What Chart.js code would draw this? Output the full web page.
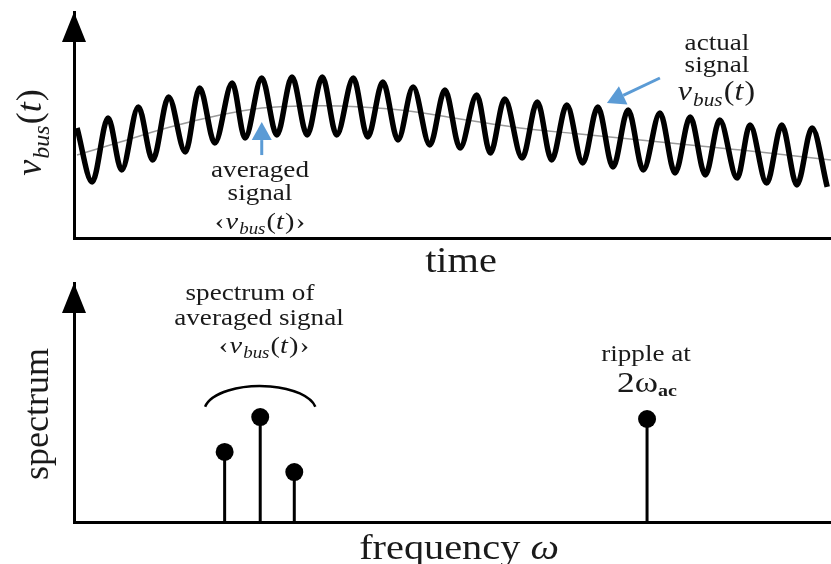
<!DOCTYPE html>
<html><head><meta charset="utf-8">
<script src="https://cdn.jsdelivr.net/npm/chart.js@4/dist/chart.umd.min.js"></script>
<style>
html,body{margin:0;padding:0;background:#fff;}
#wrap{position:relative;width:831px;height:564px;overflow:hidden;background:#fff;}
.pane{position:absolute;left:0;width:831px;height:282px;}
#probe{position:absolute;left:-9999px;top:0;font-family:"Liberation Serif";}
</style></head><body>
<div id="wrap">
  <div class="pane" style="top:0"><canvas id="timeChart" width="831" height="282"></canvas></div>
  <div class="pane" style="top:282px"><canvas id="specChart" width="831" height="282"></canvas></div>
</div>
<div id="probe">time <i>v ω</i> <b>ac</b></div>
<script>
// ---------- data (arbitrary units 0..100) ----------
const timeActual = [0.4, 2.4, 4.5, 6.3, 8.5, 10.4, 12.5, 14.7, 16.6, 18.6, 20.9, 22.6, 24.8, 26.8, 28.8, 30.8, 32.8, 34.7, 36.9, 38.8, 40.8, 42.8, 44.8, 47.0, 49.0, 51.0, 53.2, 55.0, 56.9, 59.2, 61.2, 63.1, 65.1, 67.2, 69.2, 71.2, 73.2, 75.2, 77.4, 79.4, 81.4, 83.4, 85.3, 87.6, 89.3, 91.5, 93.5, 95.5, 97.5, 99.5];
const vbusActual = [48.7, 24.8, 53.1, 30.1, 58.0, 34.5, 62.4, 38.1, 66.4, 42.0, 68.6, 44.2, 70.8, 45.6, 71.2, 45.6, 71.2, 45.6, 70.8, 44.7, 69.0, 43.4, 66.8, 41.2, 65.5, 39.8, 63.3, 37.6, 61.5, 35.4, 60.2, 34.5, 58.8, 33.2, 58.0, 31.4, 56.6, 30.1, 55.3, 28.8, 53.5, 27.9, 52.2, 26.5, 50.0, 24.3, 50.0, 23.5, 48.7, 22.6];
const timeAveraged = [0.4, 6.1, 12.7, 19.3, 24.8, 29.9, 35.1, 43.1, 51.0, 58.9, 66.8, 74.8, 82.7, 90.6, 100];
const vbusAveraged = [36.7, 42.5, 49.1, 54.4, 57.5, 58.4, 58.4, 56.6, 52.7, 48.7, 46.0, 43.4, 40.7, 38.1, 34.5];
const freqComponents = [19.9, 24.6, 29.1, 75.7];
const spectrumAmplitude = [29.3, 43.9, 20.9, 43.1];

// ---------- styling / annotation constants ----------
const SERIF = '"Liberation Serif", "Times New Roman", Tinos, serif';
const INK = '#1a1a1a';
const BLUE = '#5b9bd5';
const SX = 1.18; // horizontal stretch of the original artwork text

function fontOf(p){ return (p.italic ? 'italic ' : '') + (p.bold ? 'bold ' : '') + p.size + 'px ' + SERIF; }
function rich(ctx, parts, x, y, o){
  o = o || {};
  ctx.save();
  ctx.translate(x, y);
  if (o.rotate) ctx.rotate(o.rotate);
  ctx.scale(o.sx || 1, 1);
  ctx.textAlign = 'left'; ctx.textBaseline = 'alphabetic';
  const w = parts.map(p => { ctx.font = fontOf(p); return ctx.measureText(p.t).width + (p.kern || 0); });
  let cx = -w.reduce((a,b)=>a+b,0)/2;
  parts.forEach((p,i) => { ctx.font = fontOf(p); ctx.fillStyle = p.color || INK; ctx.fillText(p.t, cx, p.dy || 0); cx += w[i]; });
  ctx.restore();
}
function vbusParts(s, bracket){
  const sub = Math.round(s*0.68);
  const parts = [];
  if (bracket) parts.push({t:'‹', size:s, kern:1});
  parts.push({t:'v', size:s, italic:true, kern:1});
  parts.push({t:'bus', size:sub, italic:true, dy:Math.round(s*0.22), kern:1});
  parts.push({t:'(', size:s}); parts.push({t:'t', size:s, italic:true, kern:1}); parts.push({t:')', size:s, kern:1});
  if (bracket) parts.push({t:'›', size:s});
  return parts;
}
function yArrowHead(ctx, area){
  ctx.save(); ctx.fillStyle = '#000';
  ctx.beginPath();
  ctx.moveTo(area.left, area.top);
  ctx.lineTo(area.left - 12, area.top + 30);
  ctx.lineTo(area.left + 12, area.top + 30);
  ctx.closePath(); ctx.fill(); ctx.restore();
}
function blueArrow(ctx, x0, y0, x1, y1){
  const ang = Math.atan2(y1 - y0, x1 - x0), L = 18, W = 10;
  const bx = x1 - L*Math.cos(ang), by = y1 - L*Math.sin(ang);
  ctx.save(); ctx.strokeStyle = BLUE; ctx.fillStyle = BLUE; ctx.lineWidth = 3;
  ctx.beginPath(); ctx.moveTo(x0, y0); ctx.lineTo(bx, by); ctx.stroke();
  ctx.beginPath(); ctx.moveTo(x1, y1);
  ctx.lineTo(bx + W*Math.sin(ang), by - W*Math.cos(ang));
  ctx.lineTo(bx - W*Math.sin(ang), by + W*Math.cos(ang));
  ctx.closePath(); ctx.fill(); ctx.restore();
}

// arrows in data units: [tailT, tailV, tipT, tipV]
const avgArrow = [24.8, 36.7, 24.8, 51.3];
const actArrow = [77.4, 70.8, 70.4, 59.7];
// bracket over the averaged-signal spectrum, data units
const bracket = {cf: 24.6, rf: 7.4, cv: 46.3, rv: 10.6};

const hiddenScale = (min, max) => ({
  type: 'linear', min, max,
  ticks: {display: false}, grid: {display: false, drawTicks: false},
  border: {display: true, color: '#000', width: 3}
});

const topPlugin = {
  id: 'topDecor',
  afterDraw(chart){
    const ctx = chart.ctx, a = chart.chartArea, xs = chart.scales.x, ys = chart.scales.y;
    yArrowHead(ctx, a);
    rich(ctx, vbusParts(36, false), 41, 132, {rotate: -Math.PI/2});
    rich(ctx, [{t:'time', size:36}], 461, 272, {sx: 1.12});
    rich(ctx, [{t:'averaged', size:23}], 260, 177, {sx: SX});
    rich(ctx, [{t:'signal', size:23}], 260, 200, {sx: SX});
    rich(ctx, vbusParts(24, true), 260, 229, {sx: SX});
    blueArrow(ctx, xs.getPixelForValue(avgArrow[0]), ys.getPixelForValue(avgArrow[1]), xs.getPixelForValue(avgArrow[2]), ys.getPixelForValue(avgArrow[3]));
    rich(ctx, [{t:'actual', size:23}], 717, 50, {sx: SX});
    rich(ctx, [{t:'signal', size:23}], 717, 72, {sx: SX});
    rich(ctx, vbusParts(27, false), 717, 100, {sx: SX});
    blueArrow(ctx, xs.getPixelForValue(actArrow[0]), ys.getPixelForValue(actArrow[1]), xs.getPixelForValue(actArrow[2]), ys.getPixelForValue(actArrow[3]));
  }
};

const botPlugin = {
  id: 'botDecor',
  afterDraw(chart){
    const ctx = chart.ctx, a = chart.chartArea, xs = chart.scales.x, ys = chart.scales.y;
    yArrowHead(ctx, a);
    rich(ctx, [{t:'spectrum', size:36}], 48, 132, {rotate: -Math.PI/2});
    rich(ctx, [{t:'frequency ', size:36}, {t:'ω', size:36, italic:true}], 459, 277, {sx: 1.12});
    rich(ctx, [{t:'spectrum of', size:23}], 250, 18, {sx: SX});
    rich(ctx, [{t:'averaged signal', size:23}], 259, 43, {sx: SX});
    rich(ctx, vbusParts(24, true), 264, 71, {sx: SX});
    rich(ctx, [{t:'ripple at', size:23}], 646, 79, {sx: SX});
    rich(ctx, [{t:'2ω', size:30}, {t:'ac', size:17, bold:true, dy:4}], 647, 110, {sx: SX});
    const cx = xs.getPixelForValue(bracket.cf), cy = ys.getPixelForValue(bracket.cv);
    const rx = xs.getPixelForValue(bracket.cf + bracket.rf) - cx, ry = cy - ys.getPixelForValue(bracket.cv + bracket.rv);
    ctx.save(); ctx.strokeStyle = '#000'; ctx.lineWidth = 2.5;
    ctx.beginPath(); ctx.ellipse(cx, cy, rx, ry, 0, Math.PI + 0.18, 2*Math.PI - 0.18); ctx.stroke(); ctx.restore();
  }
};

function build(){
  new Chart(document.getElementById('timeChart'), {
    type: 'line',
    data: {
      datasets: [
        { label: 'actual signal', data: timeActual.map((t,i) => ({x: t, y: vbusActual[i]})),
          borderColor: '#000', borderWidth: 5.5, pointRadius: 0, cubicInterpolationMode: 'monotone', fill: false },
        { label: 'averaged signal', data: timeAveraged.map((t,i) => ({x: t, y: vbusAveraged[i]})),
          borderColor: '#9a9a9a', borderWidth: 1.5, pointRadius: 0, tension: 0.4, fill: false }
      ]
    },
    options: {
      responsive: false, animation: false, devicePixelRatio: 1,
      layout: {autoPadding: false, padding: {left: 74, top: 12, right: 0, bottom: 44}},
      plugins: {legend: {display: false}, tooltip: {enabled: false}},
      scales: { x: hiddenScale(0, 100), y: hiddenScale(0, 100) }
    },
    plugins: [topPlugin]
  });

  const stemData = [];
  freqComponents.forEach((f,i) => { stemData.push({x: f, y: 0}, {x: f, y: spectrumAmplitude[i]}, {x: f, y: null}); });

  new Chart(document.getElementById('specChart'), {
    type: 'line',
    data: {
      datasets: [
        { label: 'heads', data: freqComponents.map((f,i) => ({x: f, y: spectrumAmplitude[i]})),
          showLine: false, pointRadius: 9, pointBackgroundColor: '#000', pointBorderWidth: 0 },
        { label: 'stems', data: stemData, borderColor: '#000', borderWidth: 3, pointRadius: 0, spanGaps: false, borderCapStyle: 'butt' }
      ]
    },
    options: {
      responsive: false, animation: false, devicePixelRatio: 1,
      layout: {autoPadding: false, padding: {left: 74, top: 1, right: 0, bottom: 42}},
      plugins: {legend: {display: false}, tooltip: {enabled: false}},
      scales: { x: hiddenScale(0, 100), y: hiddenScale(0, 100) }
    },
    plugins: [botPlugin]
  });
}
const loads = ['36px', 'italic 36px', 'bold 17px'].map(f => document.fonts.load(f + ' "Liberation Serif"').catch(()=>null));
Promise.all(loads).then(build, build);
</script>
</body></html>
